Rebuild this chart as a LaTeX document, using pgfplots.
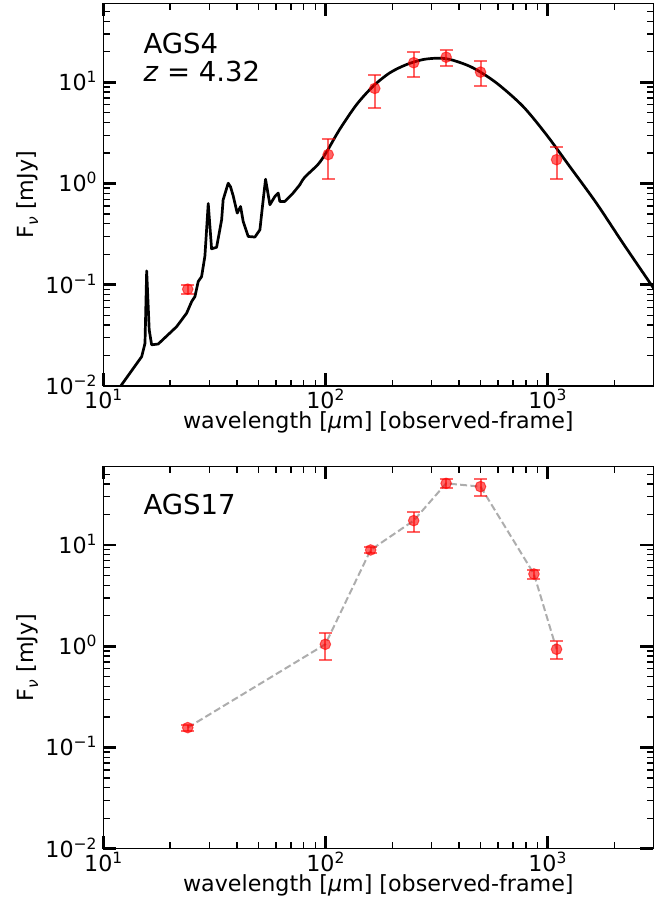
\documentclass[border=0pt]{standalone}
\usepackage{fontspec}
\setmainfont{DejaVu Sans}
\usepackage{pgfplots}
\usepackage{pgfplotstable}
\pgfplotsset{compat=1.18}
\newcommand{\sups}[1]{\raisebox{0.36em}{\fontsize{15.5}{15.5}\selectfont #1}}
\newcommand{\subs}[1]{\raisebox{-0.22em}{\fontsize{15.5}{15.5}\selectfont #1}}

\pgfplotstableread{
x y e
24 0.0905 0.009
103 1.93 0.82
167 8.7 3.1
250 15.6 4.2
350 17.7 3.3
500 12.6 3.5
1100 1.72 0.6
}\agsfour

% model SED: mid-IR part (sharp PAH features)
\pgfplotstableread{
x y
11.3 0.0080
11.9 0.0098
14.89 0.0195
15.41 0.0264
15.68 0.137
16.1 0.0358
16.51 0.0255
17.68 0.0260
21.4 0.0386
23.73 0.0524
25.0 0.0682
25.86 0.0764
26.76 0.1076
27.72 0.1205
28.69 0.193
29.69 0.635
30.74 0.2265
32.38 0.2344
34.12 0.4385
34.65 0.69
36.52 1.007
37.4 0.93
38.46 0.757
40.1 0.51
41.52 0.593
42.66 0.4217
44.93 0.300
48.17 0.296
50.73 0.349
52.5 0.692
53.8 1.103
56.27 0.617
59.27 0.745
61.33 0.805
62.4 0.665
65.7 0.665
71.6 0.805
76.8 0.973
}\sedmir

% model SED: far-IR / submm part (smooth)
\pgfplotstableread{
x y
76.8 0.973
80.8 1.154
92.8 1.55
101.3 2.05
115.8 3.40
138.2 6.01
164.1 9.13
195.1 12.39
232 14.96
275.5 16.77
327 17.3
375.8 16.5
462.4 13.88
589.5 9.86
776 5.79
989.6 3.04
1260 1.476
1662 0.641
2188 0.258
2938 0.0998
3000 0.093
}\sedfir

\pgfplotstableread{
x y e
24 0.157 0.01
100 1.045 0.31
160 8.93 0.65
250 17.4 4.0
350 40.6 4.4
500 37.7 7.0
870 5.17 0.55
1100 0.933 0.19
}\agsseventeen

\pgfplotsset{
  scale only axis, width=550pt, height=382.5pt,
  xmin=10, xmax=3000, ymin=0.01, ymax=60,
  xtick={10,100,1000}, xticklabels={10\sups{1},10\sups{2},10\sups{3}},
  ytick={0.01,0.1,1,10}, yticklabels={10\sups{−2},10\sups{−1},10\sups{0},10\sups{1}},
  minor xtick={20,30,40,50,60,70,80,90,200,300,400,500,600,700,800,900,2000},
  minor ytick={0.02,0.03,0.04,0.05,0.06,0.07,0.08,0.09,0.2,0.3,0.4,0.5,0.6,0.7,0.8,0.9,2,3,4,5,6,7,8,9,20,30,40,50},
  tick align=inside,
  major tick length=13pt, minor tick length=6.5pt,
  every major tick/.append style={line width=2.8pt, black},
  every minor tick/.append style={line width=1.3pt, black},
  axis line style={line width=1.2pt, black},
  tick label style={font=\fontsize{22.2}{26}\selectfont},
  xticklabel style={anchor=base, inner sep=0pt, yshift=-22.3pt},
  yticklabel style={anchor=base east, inner sep=0pt, xshift=-6.6pt, yshift=-8.3pt},
  label style={font=\fontsize{22.2}{26}\selectfont},
  xlabel={wavelength [\textit{μ}m] [observed-frame]},
  ylabel={F\subs{\textit{ν}} [mJy]},
  xlabel style={at={(axis description cs:0.5,-0.1115)}, anchor=base, inner sep=0pt},
  ylabel style={at={(axis description cs:-0.1273,0.5)}, anchor=base, inner sep=0pt},
}

\begin{document}
\begin{tikzpicture}
\useasboundingbox (0pt,0pt) rectangle (671pt,907pt);

\begin{loglogaxis}[at={(103.3pt,521pt)}, anchor=south west]
  \addplot[black, line width=2.7pt, line join=round, line cap=round] table[x=x, y=y] {\sedmir};
  \addplot[black, line width=2.7pt, line join=round, line cap=round, smooth, tension=0.5] table[x=x, y=y] {\sedfir};
  \addplot[only marks, mark=*, mark size=5.3pt,
    mark options={draw=red, fill=red, opacity=0.6, line width=1pt},
    error bars/y dir=both, error bars/y explicit,
    error bars/error bar style={line width=2pt, draw=red, opacity=0.6},
    error bars/error mark options={rotate=90, mark size=6.5pt, line width=2pt, draw=red, opacity=0.6}]
    table[x=x, y=y, y error=e] {\agsfour};
\end{loglogaxis}

\begin{loglogaxis}[at={(103.3pt,58.3pt)}, anchor=south west]
  \addplot[black!32, line width=2pt, dash pattern=on 7pt off 3.3pt] table[x=x, y=y] {\agsseventeen};
  \addplot[only marks, mark=*, mark size=5.3pt,
    mark options={draw=red, fill=red, opacity=0.6, line width=1pt},
    error bars/y dir=both, error bars/y explicit,
    error bars/error bar style={line width=2pt, draw=red, opacity=0.6},
    error bars/error mark options={rotate=90, mark size=6.5pt, line width=2pt, draw=red, opacity=0.6}]
    table[x=x, y=y, y error=e] {\agsseventeen};
\end{loglogaxis}

\node[anchor=base west, inner sep=0pt, font=\fontsize{27.5}{33}\selectfont] at (143.3pt,853.7pt) {AGS4};
\node[anchor=base west, inner sep=0pt, font=\fontsize{27.5}{33}\selectfont] at (143.3pt,825.3pt) {\textit{z} = 4.32};
\node[anchor=base west, inner sep=0pt, font=\fontsize{27.5}{33}\selectfont] at (143.3pt,392pt) {AGS17};
\end{tikzpicture}
\end{document}
